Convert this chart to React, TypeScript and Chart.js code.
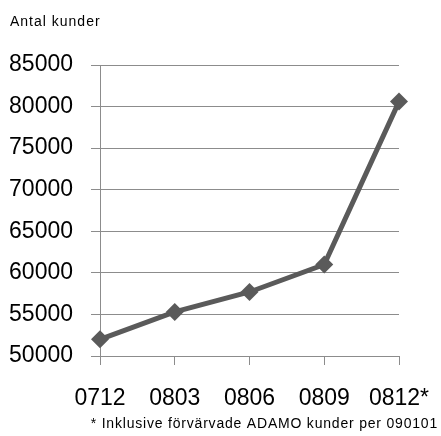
import React, { useEffect, useRef } from "react";
import { Chart, registerables } from "chart.js";

Chart.register(...registerables);

const categories = ["0712", "0803", "0806", "0809", "0812*"];
const customers = [52000, 55300, 57700, 61000, 80600];
const yMin = 50000;
const yMax = 85000;
const yStep = 5000;
const titleText = "Antal kunder";
const footnoteText = "* Inklusive förvärvade ADAMO kunder per 090101";

const FONT = "'Liberation Sans', Arial, sans-serif";

const textPlugin = {
  id: "texts",
  afterDraw(chart: any) {
    const ctx = chart.ctx;
    ctx.save();
    ctx.fillStyle = "#000";
    ctx.font = "14px " + FONT;
    ctx.textBaseline = "middle";
    ctx.textAlign = "left";
    (ctx as any).letterSpacing = "1px";
    ctx.fillText(titleText, 10, 22);
    ctx.textAlign = "right";
    (ctx as any).letterSpacing = "0.8px";
    ctx.fillText(footnoteText, 438, 424);
    ctx.restore();
  },
};

export default function App() {
  const ref = useRef<HTMLCanvasElement | null>(null);
  useEffect(() => {
    document.body.style.margin = "0";
    document.body.style.overflow = "hidden";
    if (!ref.current) return;
    const chart = new Chart(ref.current, {
      type: "line",
      data: {
        labels: categories,
        datasets: [
          {
            data: customers,
            borderColor: "#5a5a5a",
            backgroundColor: "#5a5a5a",
            borderWidth: 5,
            pointStyle: "rectRot",
            pointRadius: 9,
            pointBorderWidth: 0,
            tension: 0,
          },
        ],
      },
      options: {
        responsive: false,
        animation: false,
        layout: { padding: { top: 65, right: 42, bottom: 0, left: 0 } },
        plugins: {
          legend: { display: false },
          tooltip: { enabled: false },
          title: { display: false },
        },
        scales: {
          x: {
            offset: false,
            grid: { drawOnChartArea: false, drawTicks: true, tickLength: 9, color: "#8c8c8c" },
            border: { display: true, color: "#8c8c8c", width: 1 },
            ticks: { color: "#000", padding: 20, maxRotation: 0, autoSkip: false, font: { family: FONT, size: 23 } },
            afterFit(scale: any) {
              scale.height = 80;
              scale.paddingLeft = 0;
              scale.paddingRight = 0;
            },
          },
          y: {
            min: yMin,
            max: yMax,
            grid: { color: "#8c8c8c", drawTicks: true, tickLength: 9 },
            border: { display: true, color: "#8c8c8c", width: 1 },
            ticks: { stepSize: yStep, color: "#000", padding: 18, font: { family: FONT, size: 23 }, callback: (v: any) => String(v) },
            afterFit(scale: any) {
              scale.width = 100;
              scale.paddingTop = 0;
              scale.paddingBottom = 0;
            },
          },
        },
      },
      plugins: [textPlugin],
    });
    return () => chart.destroy();
  }, []);
  return (
    <div style={{ position: "fixed", left: 0, top: 0, width: 441, height: 436, overflow: "hidden", background: "#fff" }}>
      <canvas ref={ref} width={441} height={436} style={{ display: "block", width: 441, height: 436 }} />
    </div>
  );
}
